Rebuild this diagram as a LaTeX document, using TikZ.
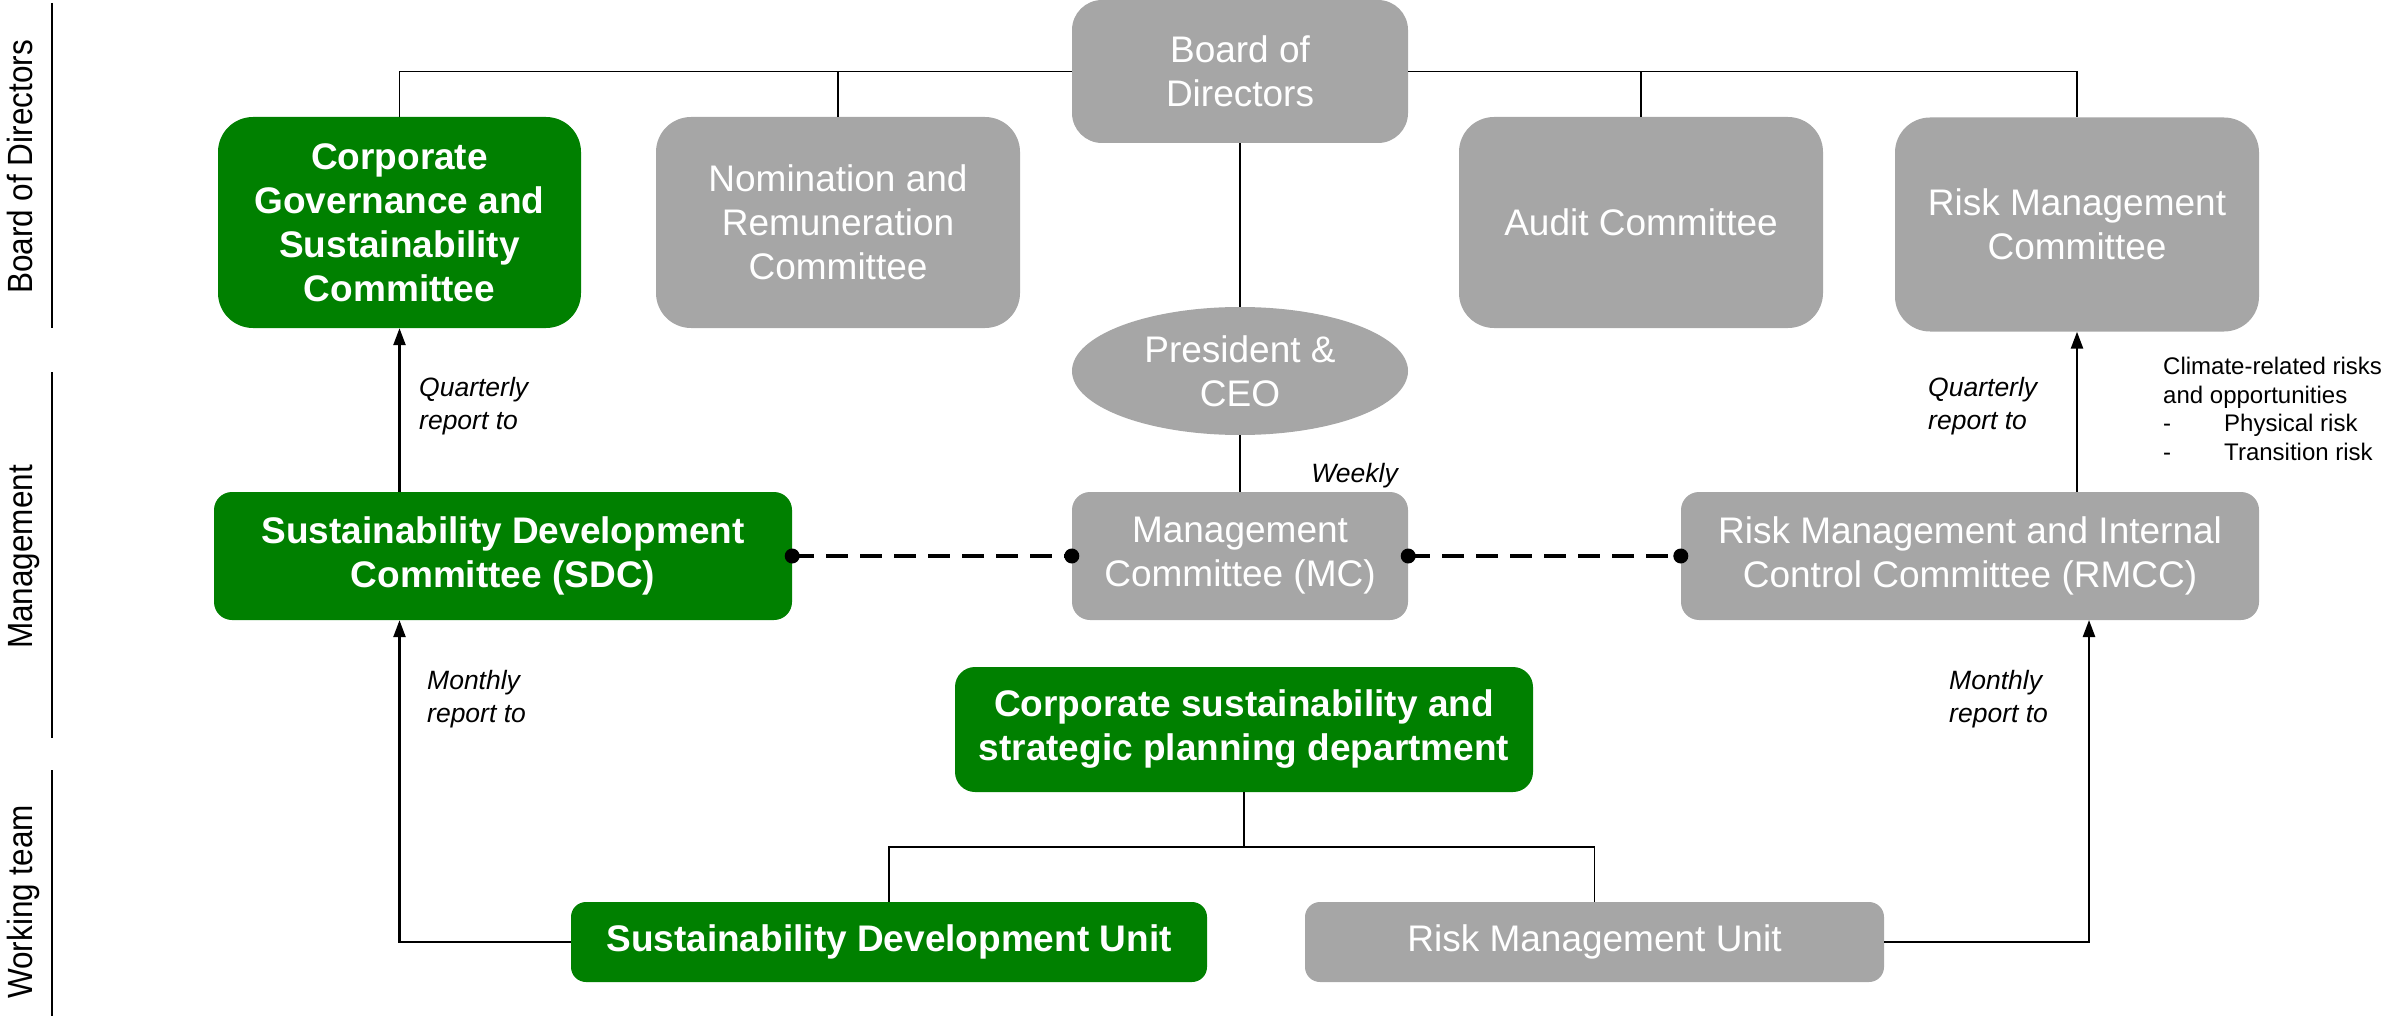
\documentclass[tikz,border=0pt]{standalone}
\usepackage{fontspec}
\setmainfont{Liberation Sans}
\usetikzlibrary{shapes.geometric,arrows.meta}
\definecolor{ggreen}{RGB}{0,128,0}
\definecolor{ggray}{RGB}{166,166,166}
\begin{document}
\begin{tikzpicture}[x=1pt,y=-1pt,
  greenbox/.style={fill=ggreen,rounded corners=#1,align=center,text=white,inner sep=0pt,
     font=\bfseries\fontsize{37}{44}\selectfont},
  greenbox/.default=20pt,
  graybox/.style={fill=ggray,rounded corners=#1,align=center,text=white,inner sep=0pt,
     font=\fontsize{37}{44}\selectfont},
  graybox/.default=20pt,
  conn/.style={draw=black,line width=1.5pt},
  rep/.style={draw=black,line width=2.5pt,-{Triangle[length=17pt,width=12pt]}},
  dashln/.style={draw=black,line width=3.5pt,dash pattern=on 22pt off 12pt},
  lbl/.style={align=left,inner sep=0pt,font=\itshape\fontsize{26.5}{33}\selectfont},
  side/.style={rotate=90,inner sep=0pt,anchor=base,font=\fontsize{35}{40}\selectfont},
]
\useasboundingbox (0,0) rectangle (2382,1016);

% side labels
\node[side] (sbod) at (32,167) {\scalebox{0.9}[1]{Board of Directors}};
\node[side] (smgt) at (32,557) {\scalebox{0.9}[1]{Management}};
\node[side] (swt) at (32,902) {\scalebox{0.9}[1]{Working team}};
\draw[line width=1.5pt] (52,3) -- (52,328);
\draw[line width=1.5pt] (52,372) -- (52,738);
\draw[line width=1.5pt] (52,770) -- (52,1016);

% board level
\node[graybox=30pt,minimum width=336pt,minimum height=143pt] (bod) at (1240,71.5) {Board of\\Directors};
\node[greenbox=35pt,minimum width=363pt,minimum height=211pt] (cgsc) at (399.5,222.5) {Corporate\\Governance and\\Sustainability\\Committee};
\node[graybox=35pt,minimum width=364pt,minimum height=211pt] (nrc) at (838,222.5) {Nomination and\\Remuneration\\Committee};
\node[graybox=35pt,minimum width=364pt,minimum height=211pt] (audit) at (1641,222.5) {Audit Committee};
\node[graybox=35pt,minimum width=364pt,minimum height=214pt] (rmc) at (2077,224.5) {Risk Management\\Committee};

\draw[conn] (cgsc.north) |- (bod.west);
\draw[conn] (bod.east) -| (rmc.north);
\draw[conn] (nrc.north) -- (nrc.north |- bod.west);
\draw[conn] (audit.north) -- (audit.north |- bod.east);

% management level
\node[ellipse,fill=ggray,minimum width=336pt,minimum height=128pt,inner sep=0pt,align=center,text=white,
      font=\fontsize{37}{44}\selectfont] (ceo) at (1240,371) {President \&\\CEO};
\node[graybox=18pt,minimum width=336pt,minimum height=128pt] (mc) at (1240,556) {Management\\Committee (MC)};
\node[greenbox=18pt,minimum width=578pt,minimum height=128pt] (sdc) at (503,556) {Sustainability Development\\Committee (SDC)};
\node[graybox=18pt,minimum width=578pt,minimum height=128pt] (rmcc) at (1970,556) {Risk Management and Internal\\Control Committee (RMCC)};

\draw[conn] (bod.south) -- (ceo.north);
\draw[conn] (ceo.south) -- (mc.north);
\node[lbl,anchor=base east] (weekly) at (1398,482) {Weekly};

\draw[dashln] (sdc.east) -- (mc.west);
\draw[dashln] (mc.east) -- (rmcc.west);
\fill (sdc.east) circle (7.5pt);
\fill (mc.west) circle (7.5pt);
\fill (mc.east) circle (7.5pt);
\fill (rmcc.west) circle (7.5pt);

\draw[rep] (cgsc.south |- sdc.north) -- (cgsc.south);
\draw[rep] (rmc.south |- rmcc.north) -- (rmc.south);
\node[lbl,anchor=west] (q1) at (419,406) {Quarterly\\report to};
\node[lbl,anchor=west] (q2) at (1928,406) {Quarterly\\report to};
\node[anchor=north west,align=left,inner sep=0pt,font=\fontsize{24}{28.5}\selectfont] (climate) at (2163,357)
  {Climate-related risks\\and opportunities\\\makebox[61pt][l]{-}Physical risk\\\makebox[61pt][l]{-}Transition risk};

% working team
\node[greenbox=20pt,minimum width=578pt,minimum height=125pt] (cssp) at (1244,729.5) {Corporate sustainability and\\strategic planning department};
\node[greenbox=15pt,minimum width=636pt,minimum height=80pt] (sdu) at (889,942) {Sustainability Development Unit};
\node[graybox=15pt,minimum width=579pt,minimum height=80pt] (rmu) at (1594.5,942) {Risk Management Unit};

\coordinate (bus) at (1244,847);
\draw[conn] (cssp.south) -- (bus);
\draw[conn] (sdu.north) |- (bus) -| (rmu.north);

\coordinate (rin) at (2089,620);
\draw[rep] (sdu.west) -| (sdc.south -| cgsc.south);
\draw[rep] (rmu.east) -| (rin);
\node[lbl,anchor=west] (m1) at (427,699) {Monthly\\report to};
\node[lbl,anchor=west] (m2) at (1949,699) {Monthly\\report to};
\end{tikzpicture}
\end{document}
